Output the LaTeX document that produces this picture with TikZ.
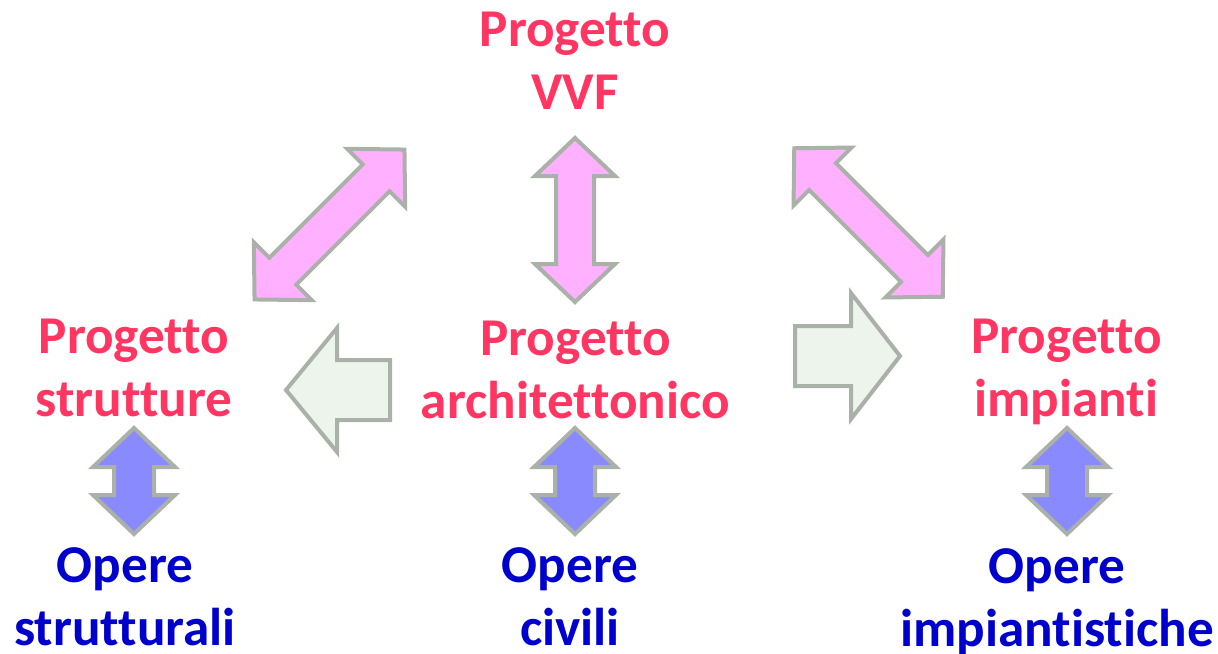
\documentclass[tikz,border=0pt]{standalone}
\usepackage{fontspec}
\setmainfont[Ligatures=NoCommon]{Carlito}
\definecolor{pinkfill}{HTML}{FFB0FF}
\definecolor{edgegray}{HTML}{AAB1A8}
\definecolor{greenfill}{HTML}{EDF4EB}
\definecolor{bluefill}{HTML}{8A8AFF}
\definecolor{redtext}{HTML}{FF3562}
\definecolor{bluetext}{HTML}{0000CC}
% double block arrow: centre, angle, half length, head length, head half width, shaft half width, style
\newcommand\dblblock[7]{%
  \path[#7, shift={(#1)}, rotate=#2]
    (-#3,0) -- (-#3+#4,#5) -- (-#3+#4,#6) -- (#3-#4,#6) -- (#3-#4,#5) -- (#3,0)
    -- (#3-#4,-#5) -- (#3-#4,-#6) -- (-#3+#4,-#6) -- (-#3+#4,-#5) -- cycle;}
% single block arrow: tip, angle, total length, head length, head half width, shaft half width, style
\newcommand\sglblock[7]{%
  \path[#7, shift={(#1)}, rotate=#2]
    (0,0) -- (-#4,#5) -- (-#4,#6) -- (-#3,#6) -- (-#3,-#6) -- (-#4,-#6) -- (-#4,-#5) -- cycle;}
\tikzset{
  blockarrow/.style={draw=edgegray, line width=2pt, line join=miter},
  pinkarrow/.style={blockarrow, fill=pinkfill},
  greenarrow/.style={blockarrow, fill=greenfill},
  bluearrow/.style={blockarrow, fill=bluefill},
  lbl/.style={font=\bfseries\fontsize{26.6}{31.5}\selectfont, align=center, inner sep=0pt, anchor=north},
  redlabel/.style={lbl, text=redtext},
  bluelabel/.style={lbl, text=bluetext},
}
\begin{document}
\begin{tikzpicture}[x=0.5pt, y=-0.5pt]
\useasboundingbox (0,0) rectangle (1218,653);
% labels
\node[redlabel] (vvf) at (575,12) {Progetto\\VVF};
\node[redlabel] (strut) at (134,319) {Progetto\\strutture};
\node[redlabel] (arch) at (575.5,321) {Progetto\\architettonico};
\node[redlabel] (imp) at (1066.5,319) {Progetto\\impianti};
\node[bluelabel] (ostrut) at (125,547) {Opere\\strutturali};
\node[bluelabel] (ociv) at (570,547) {Opere\\civili};
\node[bluelabel] (oimp) at (1057,548) {Opere\\impiantistiche};
% pink double arrows
\dblblock{329.5,224.5}{45}{106}{40}{41}{19}{pinkarrow}
\dblblock{575,220}{90}{82}{38}{40}{19}{pinkarrow}
\dblblock{868.5,222.5}{-45}{105}{40}{41}{19}{pinkarrow}
% green single arrows
\sglblock{286,390}{180}{104}{51}{62}{30}{greenarrow}
\sglblock{900,356}{0}{105}{49}{63}{30}{greenarrow}
% blue double arrows
\dblblock{134,481}{90}{53}{39}{41}{20}{bluearrow}
\dblblock{575,481}{90}{53}{39}{41}{20}{bluearrow}
\dblblock{1067,481}{90}{53}{39}{41}{20}{bluearrow}
\end{tikzpicture}
\end{document}
